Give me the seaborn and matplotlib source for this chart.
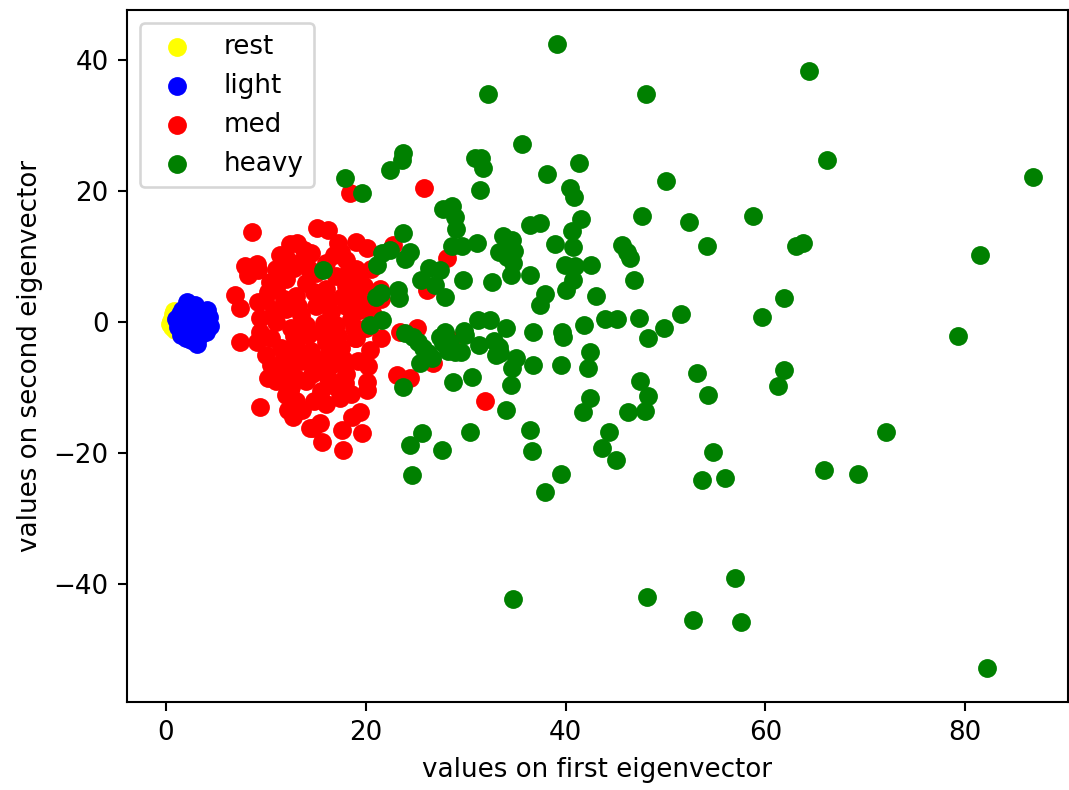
import matplotlib
matplotlib.use("Agg")
import matplotlib.pyplot as plt
import seaborn as sns
import pandas as pd

# projections onto the first two eigenvectors, per activity level
rest_x = [0.5, 0.7, 0.6, 0.9, 1.0, 0.8, 1.1, 0.4, 1.2, 0.9]
rest_y = [0.2, 1.2, -0.8, 0.4, -0.3, 1.6, 0.9, -0.3, -1.0, -1.2]

light_x = [2.1, 1.6, 2.9, 4.1, 3.9, 4.4, 3.4, 3.1, 2.0, 1.2, 1.0, 2.4, 2.9, 3.5,
           2.2, 1.5, 4.0, 3.0, 1.8, 2.6, 3.6, 1.4, 2.5, 4.3]
light_y = [3.1, 1.8, 2.6, 1.8, 0.3, -0.6, -2.0, -3.3, -2.4, -0.8, 0.5, 0.3, -1.0, 1.0,
           -1.5, -2.0, -1.5, 0.8, 0.9, 1.6, -0.5, 1.2, -2.8, 0.8]

med_x = [25.8, 18.4, 8.6, 15.1, 16.2, 12.4, 13.1, 17.2, 19.0, 20.1, 17.5, 11.4,
         12.1, 13.5, 14.0, 7.9, 9.1, 9.2, 8.2, 10.4, 6.9, 7.4, 9.9, 9.2, 7.4,
         9.1, 9.4, 9.4, 9.4, 12.2, 12.6, 12.7, 14.4, 15.4, 14.7, 15.6, 17.6,
         19.6, 19.4, 18.6, 17.7, 17.4, 17.9, 20.1, 20.1, 20.4, 18.9, 19.4,
         24.4, 23.1, 26.7, 23.4, 25.1, 28.6, 28.1, 26.1, 22.7, 21.4, 31.9,
         11.0, 12.0, 13.0, 14.0, 15.0, 16.0, 17.0, 18.0, 19.0, 12.0, 13.5,
         15.0, 16.5, 18.0, 19.5, 20.6, 11.0, 12.5, 14.0, 15.5, 17.0, 18.5,
         20.0, 10.5, 11.5, 13.0, 14.5, 16.0, 17.5, 19.0, 10.5, 12.0, 13.5,
         15.0, 16.5, 18.0, 11.0, 12.5, 14.0, 15.5, 17.0, 18.5, 13.0, 16.0,
         11.0, 14.5, 16.0, 18.0, 19.5, 20.5, 21.5, 21.5, 10.0, 12.4, 12.4,
         11.8, 13.2, 14.8, 16.2, 17.6, 19.0, 12.8, 14.2, 15.8, 17.2, 18.8,
         11.8, 13.2, 14.8, 16.2, 17.8, 19.2, 11.5, 13.0, 14.6, 16.2, 17.6,
         12.0, 14.8, 13.6, 10.8, 10.2, 12.8, 14.3, 16.8, 18.2, 13.8, 11.6,
         20.2, 10.2, 19.8]
med_y = [20.5, 19.7, 13.7, 14.4, 14.0, 11.9, 12.1, 12.1, 12.2, 11.3, 10.7, 10.2,
         9.6, 9.2, 9.8, 8.5, 8.9, 7.9, 7.2, 6.1, 4.1, 2.1, 3.4, 3.1, -3.1,
         -3.1, -1.5, 0.6, -13.0, -13.4, -13.0, -14.5, -16.2, -15.4, -16.2, -18.3, -16.5,
         -16.9, -13.7, -14.5, -19.5, -11.6, -9.3, -9.2, -10.4, -4.3, -2.4, 1.8,
         -8.5, -8.1, -6.3, -1.5, -0.9, -2.7, 9.8, 4.9, 11.8, 5.0, -12.1,
         5.0, 6.5, 4.0, 6.0, 7.5, 5.0, 7.0, 5.5, 8.0, 2.0, 1.0,
         2.5, 1.5, 2.5, 3.0, 1.5, 0.0, -1.0, -0.5, -1.5, -0.5, 0.5,
         -1.0, -2.5, -4.0, -3.5, -4.5, -3.0, -4.0, -2.5, -6.5, -7.0, -6.0,
         -7.5, -6.5, -8.0, -9.0, -10.0, -9.0, -10.5, -10.0, -11.0, -12.0, -12.5,
         8.0, 10.5, 9.0, 9.5, 6.0, 8.0, 3.5, -2.5, -5.0, -10.4, -8.0,
         3.5, 2.5, 4.5, 3.0, 3.8, 4.2, -2.2, -2.0, -0.2, -2.2, -1.0,
         -5.5, -5.0, -6.0, -5.0, -5.8, -6.0, -7.8, -8.5, -8.0, -8.6, -9.0,
         -11.2, -12.0, -13.5, 1.8, 4.5, 8.2, 8.0, 10.2, 7.5, 11.0, 7.2,
         -6.8, -8.5, 5.5]

heavy_x = [39.1, 64.4, 32.2, 48.1, 35.6, 23.7, 23.6, 66.2, 41.3, 30.9, 31.5, 31.7,
           22.4, 17.9, 38.1, 50.1, 86.8, 19.6, 40.4, 40.8, 31.4, 47.7, 58.8, 27.7,
           28.6, 28.9, 41.5, 37.4, 36.4, 52.4, 29.0, 23.7, 40.6, 31.1, 33.7, 34.6,
           38.9, 40.7, 28.6, 29.6, 45.7, 46.2, 54.2, 63.1, 63.8, 21.6, 22.4, 24.4,
           23.9, 34.8, 33.3, 34.1, 34.7, 81.5, 21.1, 42.5, 39.9, 40.9, 46.5, 26.3,
           15.7, 27.4, 36.4, 34.5, 40.7, 32.6, 29.7, 46.9, 25.5, 26.9, 40.0, 23.2,
           21.0, 21.5, 27.9, 23.3, 37.9, 43.0, 61.9, 37.4, 44.0, 45.2, 47.4, 51.6,
           59.7, 21.6, 20.4, 32.4, 31.2, 41.8, 49.9, 34.0, 29.8, 36.7, 39.7, 39.6,
           29.9, 27.4, 24.7, 23.9, 48.3, 79.3, 27.7, 32.8, 31.3, 25.7, 25.2, 28.2,
           29.5, 28.9, 33.3, 33.4, 33.0, 42.4, 26.6, 25.4, 35.0, 34.6, 36.7, 39.5,
           42.2, 53.2, 61.9, 30.6, 28.7, 47.5, 34.5, 23.7, 54.3, 48.3, 42.4, 41.7,
           34.0, 46.3, 48.0, 61.3, 44.4, 30.4, 25.6, 36.4, 72.1, 24.4, 27.6, 36.6,
           45.1, 43.7, 54.8, 65.9, 69.3, 39.5, 53.7, 56.0, 24.6, 37.9, 57.0, 34.7,
           48.2, 52.8, 57.6, 82.2, 27.9, 28.4, 26.2]
heavy_y = [42.4, 38.3, 34.8, 34.8, 27.2, 25.8, 24.7, 24.7, 24.3, 25.0, 25.0, 23.5,
           23.2, 22.0, 22.6, 21.5, 22.1, 19.7, 20.5, 19.1, 20.2, 16.2, 16.2, 17.3,
           17.7, 16.0, 15.7, 15.1, 14.8, 15.3, 14.2, 13.6, 13.9, 12.1, 13.1, 12.5,
           11.9, 11.5, 11.6, 11.6, 11.8, 10.7, 11.6, 11.6, 12.1, 10.5, 11.0, 10.7,
           9.6, 10.8, 10.7, 9.9, 9.0, 10.2, 8.7, 8.7, 8.7, 8.5, 9.8, 8.2,
           7.9, 7.9, 7.2, 7.2, 6.4, 6.1, 6.4, 6.4, 6.4, 5.6, 4.9, 4.9,
           3.8, 4.4, 3.8, 3.7, 4.3, 4.0, 3.7, 2.6, 0.5, 0.5, 0.6, 1.2,
           0.8, 0.3, -0.5, 0.3, 0.3, -0.5, -0.9, -0.9, -1.4, -1.5, -2.3, -1.5,
           -2.0, -2.3, -2.3, -1.7, -2.4, -2.1, -3.2, -2.9, -3.5, -4.0, -3.1, -4.4,
           -4.6, -4.6, -3.8, -4.7, -5.0, -4.6, -5.5, -6.3, -5.5, -7.0, -6.6, -6.6,
           -7.0, -7.8, -7.3, -8.4, -9.2, -9.0, -9.6, -9.9, -11.1, -11.3, -11.6, -13.7,
           -13.4, -13.7, -13.6, -9.8, -16.8, -16.8, -17.0, -16.5, -16.8, -18.8, -19.6, -19.7,
           -21.1, -19.2, -19.8, -22.6, -23.2, -23.2, -24.1, -23.8, -23.4, -26.0, -39.1, -42.3,
           -42.0, -45.5, -45.8, -52.8, -1.5, -3.0, -4.8]

groups = ["rest", "light", "med", "heavy"]
colors = {"rest": "yellow", "light": "blue", "med": "red", "heavy": "green"}
values = {
    "rest": (rest_x, rest_y),
    "light": (light_x, light_y),
    "med": (med_x, med_y),
    "heavy": (heavy_x, heavy_y),
}

fig = plt.figure(figsize=(1069 / 188, 790 / 188), dpi=188)
ax = fig.add_axes([127 / 1069, 1 - 702 / 790, 941 / 1069, 692 / 790])

for g in groups:
    xs, ys = values[g]
    df = pd.DataFrame({"x": xs, "y": ys})
    sns.scatterplot(data=df, x="x", y="y", color=colors[g], s=52,
                    linewidth=0, label=g, ax=ax)

ax.set_xlim(-3.9, 90.3)
ax.set_ylim(-58.0, 47.6)
ax.set_xlabel("values on first eigenvector")
ax.set_ylabel("values on second eigenvector")
ax.legend(loc="upper left")

fig.savefig("out.png", dpi=188)
